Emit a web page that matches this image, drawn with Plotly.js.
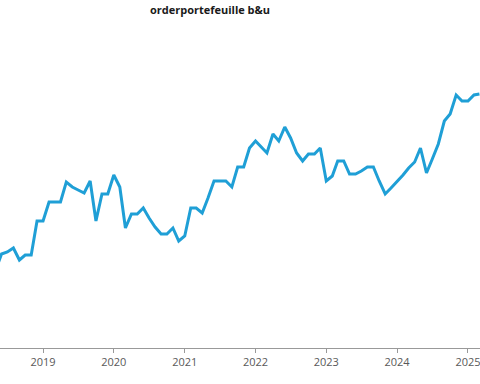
<!DOCTYPE html>
<html>
<head>
<meta charset="utf-8">
<script src="https://cdn.plot.ly/plotly-3.0.1.min.js"></script>
<style>html,body{margin:0;padding:0;background:#fff;}#chart{width:480px;height:384px;}</style>
</head>
<body>
<div id="chart"></div>
<script>
var months = [
  "2018-05","2018-06","2018-07","2018-08","2018-09","2018-10","2018-11","2018-12",
  "2019-01","2019-02","2019-03","2019-04","2019-05","2019-06","2019-07","2019-08","2019-09","2019-10","2019-11","2019-12",
  "2020-01","2020-02","2020-03","2020-04","2020-05","2020-06","2020-07","2020-08","2020-09","2020-10","2020-11","2020-12",
  "2021-01","2021-02","2021-03","2021-04","2021-05","2021-06","2021-07","2021-08","2021-09","2021-10","2021-11","2021-12",
  "2022-01","2022-02","2022-03","2022-04","2022-05","2022-06","2022-07","2022-08","2022-09","2022-10","2022-11","2022-12",
  "2023-01","2023-02","2023-03","2023-04","2023-05","2023-06","2023-07","2023-08","2023-09","2023-10","2023-11","2023-12",
  "2024-01","2024-02","2024-03","2024-04","2024-05","2024-06","2024-07","2024-08","2024-09","2024-10","2024-11","2024-12",
  "2025-01","2025-02","2025-03"
];
var orderbook = [
  30,46,48,52,40,45,45,79,
  79,98,98,98,118,113,110,107,119,79,106,106,
  125,113,72,86,86,92,82,73,66,66,72,59,
  64,92,92,87,102,119,119,119,113,133,133,152,
  159,153,147,166,159,173,162,147,139,146,146,152,
  119,124,139,139,126,126,129,133,133,119,106,112,
  118,125,132,138,152,127,141,156,179,186,205,199,
  199,205,206
];
var titleText = "orderportefeuille b&u";

var trace = {
  x: months,
  y: orderbook,
  type: "scatter",
  mode: "lines",
  line: {color: "#1f9fd6", width: 3},
  hoverinfo: "skip"
};

var layout = {
  width: 480,
  height: 384,
  margin: {l: 0, r: 0, t: 20, b: 36, pad: 0},
  paper_bgcolor: "#ffffff",
  plot_bgcolor: "#ffffff",
  showlegend: false,
  title: {
    text: "<b>" + titleText + "</b>",
    font: {family: "Open Sans, sans-serif", size: 11, color: "#1a1a1a"},
    x: 0.4375, xanchor: "center", xref: "paper",
    y: 0.974, yanchor: "middle", yref: "container"
  },
  xaxis: {
    type: "date",
    range: ["2018-05-24", "2025-03-04"],
    dtick: "M12",
    tick0: "2019-01-01",
    tickformat: "%Y",
    ticks: "outside",
    ticklen: 4,
    tickcolor: "#999999",
    tickwidth: 1,
    showline: true,
    linecolor: "#999999",
    linewidth: 1,
    showgrid: false,
    zeroline: false,
    ticklabeloverflow: "allow",
    tickfont: {family: "Open Sans, sans-serif", size: 11, color: "#595959"}
  },
  yaxis: {
    range: [-48, 280],
    visible: false,
    showgrid: false,
    zeroline: false,
    fixedrange: true
  }
};

Plotly.newPlot("chart", [trace], layout, {staticPlot: true, displayModeBar: false});
</script>
</body>
</html>
